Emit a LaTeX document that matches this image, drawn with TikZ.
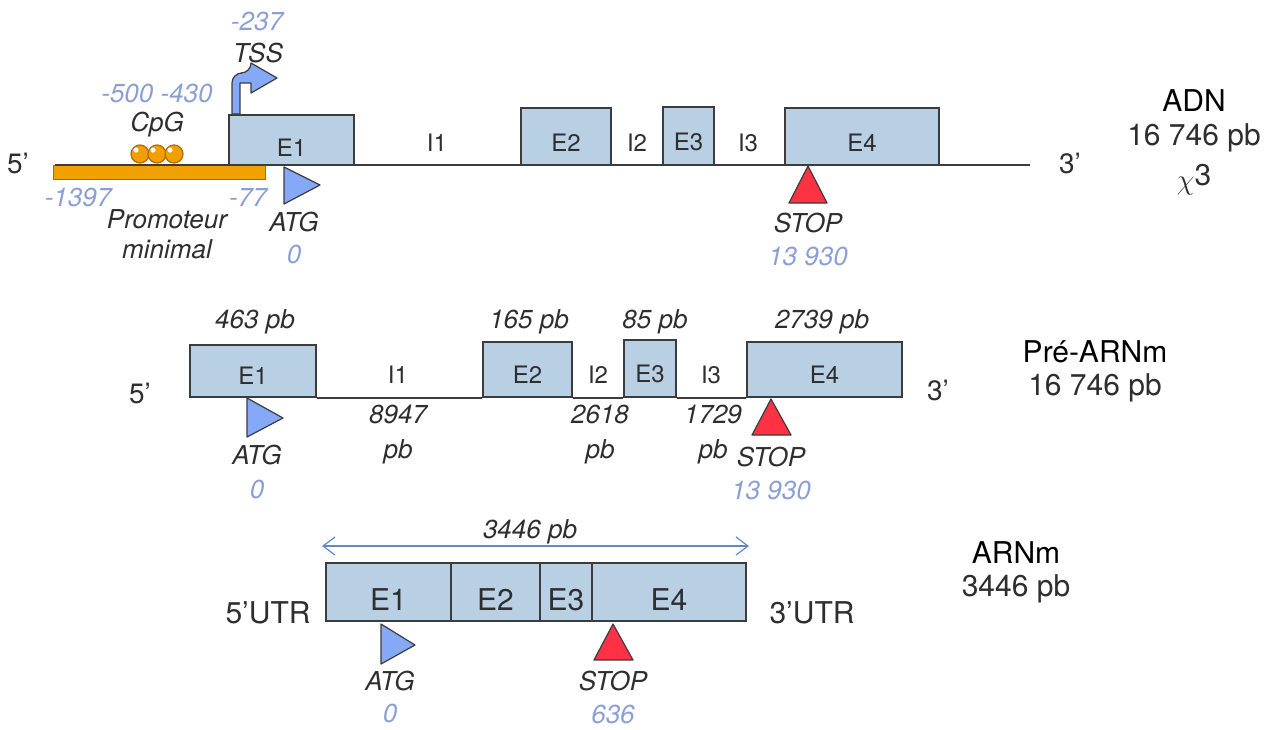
\documentclass[tikz,border=0pt]{standalone}
\usepackage{fontspec}
\setmainfont{TeX Gyre Heros}
\usetikzlibrary{arrows.meta, fit, positioning}
\definecolor{exonblue}{HTML}{B8CFE4}
\definecolor{edgegray}{HTML}{3C3C3C}
\definecolor{numblue}{HTML}{8A9FD6}
\definecolor{atgblue}{HTML}{85A8F7}
\definecolor{stopred}{HTML}{FF3145}
\definecolor{promorange}{HTML}{F0A000}
\definecolor{promdark}{HTML}{B06A00}
\definecolor{txtgray}{HTML}{2E2E2E}
\definecolor{spanblue}{HTML}{5E88C8}
\tikzset{
    exon/.style={draw=edgegray, fill=exonblue, line width=0.8pt, inner sep=0pt},
    lbl/.style={text=txtgray, font=\fontsize{13}{15}\selectfont\itshape, align=center},
    num/.style={text=numblue, font=\fontsize{13}{15}\selectfont\itshape},
    exonname/.style={text=txtgray, font=\fontsize{12}{14}\selectfont},
    bigexonname/.style={text=txtgray, font=\fontsize{15}{17}\selectfont},
    sidelbl/.style={text=txtgray, font=\fontsize{15}{17}\selectfont},
    endmark/.style={text=txtgray, font=\fontsize{14}{16}\selectfont},
    backbone/.style={draw=edgegray, line width=0.8pt},
    atg/.style={draw=edgegray, fill=atgblue, line width=0.6pt, line join=round},
    stopmark/.style={draw=edgegray, fill=stopred, line width=0.6pt, line join=round},
    cpgball/.style={circle, draw=promdark, fill=promorange, line width=0.6pt, minimum size=9pt, inner sep=0pt}
}
\begin{document}
\begin{tikzpicture}[x=0.5pt, y=-0.5pt]
    \fill[white] (0,0) rectangle (1278,729);
    \useasboundingbox (0,0) rectangle (1278,729);

    % ADN
    \node[draw=promdark, fill=promorange, inner sep=0pt, fit={(53,165) (265,179)}] (prom) {};
    \coordinate (dnaL) at (55,165);
    \coordinate (dnaR) at (1030,165);
    \draw[backbone] (dnaL) -- (dnaR);
    \node[exon, fit={(229,115) (354,165)}, label={[exonname, yshift=-4pt]center:E1}] (dnaE1) {};
    \node[exon, fit={(521,108) (611,165)}, label={[exonname, yshift=-3pt]center:E2}] (dnaE2) {};
    \node[exon, fit={(663,107) (714,165)}, label={[exonname, yshift=-3pt]center:E3}] (dnaE3) {};
    \node[exon, fit={(785,108) (939,165)}, label={[exonname, yshift=-3pt]center:E4}] (dnaE4) {};
    \node[exonname] (dnaI1) at (437,143) {I1};
    \node[exonname] (dnaI2) at (637,143) {I2};
    \node[exonname] (dnaI3) at (748,143) {I3};
    \node[endmark] (dna5) at (18,163) {5’};
    \node[endmark] (dna3) at (1070,163) {3’};

    \foreach \i/\x in {1/140, 2/157, 3/174} {
        \node[cpgball] (cpg\i) at (\x,154) {};
        \fill[white] (\x-4,150) circle (1.3pt);
    }
    \draw[atg] (232,114) {[rounded corners=5pt] -- (232,73) -- (251,73)} -- (251,63) -- (277,78)
        -- (251,93) -- (251,83) -- (240,83) -- (240,114) -- cycle;

    \node[num] (tssPos) at (257,21) {-237};
    \node[lbl] (tss) at (258,53) {TSS};
    \node[num] (cpgPos) at (157,93) {-500 -430};
    \node[lbl] (cpg) at (157,125) {CpG};
    \node[num] (promStart) at (78,197) {-1397};
    \node[num] (promEnd) at (248,197) {-77};
    \node[lbl] (promLbl) at (167,234) {Promoteur\\minimal};

    \draw[atg] (284,167) -- (284,204) -- (320,185) -- cycle;
    \node[lbl] (dnaAtg) at (294,222) {ATG};
    \node[num] (dnaAtgPos) at (294,254) {0};
    \draw[stopmark] (808,166) -- (827,203) -- (789,203) -- cycle;
    \node[lbl] (dnaStop) at (808,223) {STOP};
    \node[num] (dnaStopPos) at (808,256) {13 930};

    \node[sidelbl, text=black] (dnaName) at (1194,101) {ADN};
    \node[sidelbl] (dnaSize) at (1194,138) {16 746 pb};
    \node[sidelbl] (dnaCopy) at (1194,180) {$\chi$\raisebox{2pt}{3}};

    % Pre-ARNm
    \node[exon, fit={(190,345) (316,397)}, label={[exonname, yshift=-2.5pt]center:E1}] (preE1) {};
    \node[exon, fit={(483,342) (572,397)}, label={[exonname, yshift=-2.5pt]center:E2}] (preE2) {};
    \node[exon, fit={(624,340) (676,397)}, label={[exonname, yshift=-2.5pt]center:E3}] (preE3) {};
    \node[exon, fit={(747,342) (902,397)}, label={[exonname, yshift=-2.5pt]center:E4}] (preE4) {};
    \draw[backbone] (preE1.south east) -- (preE2.south west)
        (preE2.south east) -- (preE3.south west)
        (preE3.south east) -- (preE4.south west);
    \node[lbl] (preE1Size) at (255,322) {463 pb};
    \node[lbl] (preE2Size) at (529,322) {165 pb};
    \node[lbl] (preE3Size) at (655,322) {85 pb};
    \node[lbl] (preE4Size) at (822,322) {2739 pb};
    \node[exonname] (preI1) at (398,375) {I1};
    \node[exonname] (preI2) at (598,375) {I2};
    \node[exonname] (preI3) at (711,375) {I3};
    \node[lbl] (preI1Size) at (398,435) {8947\\[2.5pt]pb};
    \node[lbl] (preI2Size) at (600,435) {2618\\[2.5pt]pb};
    \node[lbl] (preI3Size) at (713,435) {1729\\[2.5pt]pb};
    \node[endmark] (pre5) at (140,393) {5’};
    \node[endmark] (pre3) at (938,390) {3’};

    \draw[atg] (247,398) -- (247,437) -- (283,418) -- cycle;
    \node[lbl] (preAtg) at (257,455) {ATG};
    \node[num] (preAtgPos) at (257,489) {0};
    \draw[stopmark] (771,399) -- (791,435) -- (752,435) -- cycle;
    \node[lbl] (preStop) at (771,457) {STOP};
    \node[num] (preStopPos) at (771,490) {13 930};

    \node[sidelbl, text=black] (preName) at (1095,352) {Pré-ARNm};
    \node[sidelbl] (preSize) at (1095,388) {16 746 pb};

    % ARNm
    \node[exon, fit={(326,563) (451,621)}, label={[bigexonname, yshift=-4pt]center:E1}] (mE1) {};
    \node[exon, fit={(451,563) (540,621)}, label={[bigexonname, yshift=-4pt]center:E2}] (mE2) {};
    \node[exon, fit={(540,563) (592,621)}, label={[bigexonname, yshift=-4pt]center:E3}] (mE3) {};
    \node[exon, fit={(592,563) (746,621)}, label={[bigexonname, yshift=-4pt]center:E4}] (mE4) {};
    \node[sidelbl] (m5) at (268,613) {5’UTR};
    \node[sidelbl] (m3) at (812,613) {3’UTR};

    \coordinate (spanL) at (322,546);
    \coordinate (spanR) at (749,546);
    \draw[spanblue, line width=0.6pt, {Straight Barb[length=6pt, width=9pt]}-{Straight Barb[length=6pt, width=9pt]}] (spanL) -- (spanR);
    \node[lbl] (mSpan) at (530,532) {3446 pb};

    \draw[atg] (381,624) -- (381,664) -- (415,645) -- cycle;
    \node[lbl] (mAtg) at (390,681) {ATG};
    \node[num] (mAtgPos) at (390,713) {0};
    \draw[stopmark] (613,624) -- (633,660) -- (594,660) -- cycle;
    \node[lbl] (mStop) at (613,681) {STOP};
    \node[num] (mStopPos) at (613,714) {636};

    \node[sidelbl, text=black] (mName) at (1016,553) {ARNm};
    \node[sidelbl] (mSize) at (1016,589) {3446 pb};
\end{tikzpicture}
\end{document}
